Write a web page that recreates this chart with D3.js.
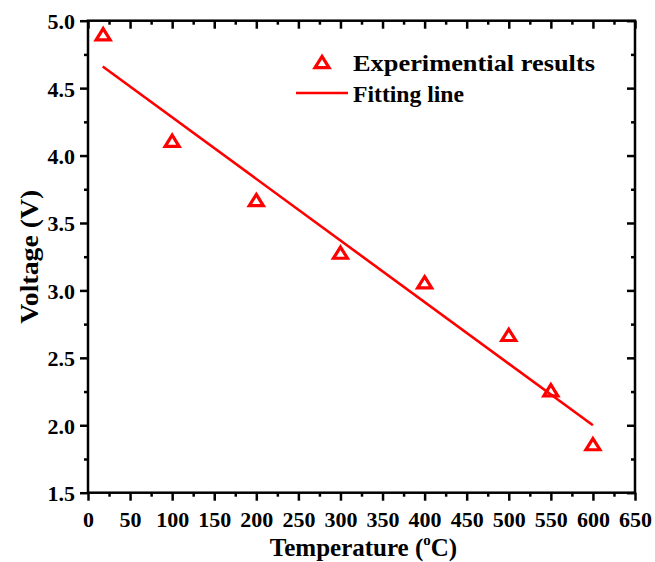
<!DOCTYPE html>
<html><head><meta charset="utf-8">
<script src="https://cdn.jsdelivr.net/npm/d3@7"></script>
<style>
html,body{margin:0;padding:0;background:#fff;}
text{font-family:"Liberation Serif","Times New Roman",serif;font-weight:bold;fill:#000;}
</style></head>
<body>
<svg id="chart" width="655" height="562"></svg>
<script>
const temperatures = [18, 100, 200, 300, 400, 500, 550, 600];
const voltages = [4.90, 4.11, 3.67, 3.28, 3.06, 2.67, 2.26, 1.86];
const fitTemps = [17.5, 600];
const fitVolts = [4.66, 2.00];
const xTicks = d3.range(0, 651, 50);
const yTicks = [1.5, 2.0, 2.5, 3.0, 3.5, 4.0, 4.5, 5.0];
const legendLabels = ["Experimential results", "Fitting line"];

const svg = d3.select("#chart");
const L = 88, R = 635, T = 20.7, B = 492.7;
const x = d3.scaleLinear().domain([0, 650]).range([L, R]);
const y = d3.scaleLinear().domain([1.5, 5.0]).range([B, T]);
const red = "#ff0000";

const fmtY = d3.format(".1f");
const minorX = d3.range(25, 650, 50);
const minorY = d3.range(1.75, 5.0, 0.5);

function axisStyle(g){
  g.select(".domain").remove();
  g.selectAll("line").attr("stroke","#000").attr("stroke-width",2.5);
}
// bottom
svg.append("g").attr("transform",`translate(0,${B})`)
  .call(d3.axisBottom(x).tickValues(xTicks).tickSizeOuter(0).tickSize(8).tickFormat(d3.format("d")))
  .call(axisStyle)
  .call(g=>g.selectAll("text").attr("font-size",22).attr("dy",0).attr("y",34));
svg.append("g").attr("transform",`translate(0,${B})`)
  .call(d3.axisBottom(x).tickValues(minorX).tickSize(4).tickFormat(""))
  .call(axisStyle);
// top (inward)
svg.append("g").attr("transform",`translate(0,${T})`)
  .call(d3.axisBottom(x).tickValues(xTicks).tickSize(8).tickFormat(""))
  .call(axisStyle);
svg.append("g").attr("transform",`translate(0,${T})`)
  .call(d3.axisBottom(x).tickValues(minorX).tickSize(4).tickFormat(""))
  .call(axisStyle);
// left
svg.append("g").attr("transform",`translate(${L},0)`)
  .call(d3.axisLeft(y).tickValues(yTicks).tickSize(8).tickPadding(5).tickFormat(fmtY))
  .call(axisStyle)
  .call(g=>g.selectAll("text").attr("font-size",22).attr("dy","0.36em"));
svg.append("g").attr("transform",`translate(${L},0)`)
  .call(d3.axisLeft(y).tickValues(minorY).tickSize(4).tickFormat(""))
  .call(axisStyle);
// right (inward)
svg.append("g").attr("transform",`translate(${R},0)`)
  .call(d3.axisLeft(y).tickValues(yTicks).tickSize(8).tickFormat(""))
  .call(axisStyle);
svg.append("g").attr("transform",`translate(${R},0)`)
  .call(d3.axisLeft(y).tickValues(minorY).tickSize(4).tickFormat(""))
  .call(axisStyle);

// frame
svg.append("rect").attr("x",L).attr("y",T).attr("width",R-L).attr("height",B-T)
  .attr("fill","none").attr("stroke","#000").attr("stroke-width",2.5);

// fit line
const line = d3.line().x(d=>x(d[0])).y(d=>y(d[1]));
svg.append("path").datum(fitTemps.map((t,i)=>[t,fitVolts[i]]))
  .attr("d",line).attr("fill","none").attr("stroke",red).attr("stroke-width",2.6);

// triangles
function tri(cx,cy){
  const w=7, h=5.6;
  return `M${cx},${cy-h}L${cx+w},${cy+h}L${cx-w},${cy+h}Z`;
}
svg.append("g").selectAll("path").data(temperatures.map((t,i)=>[t,voltages[i]]))
  .join("path").attr("d",d=>tri(x(d[0]),y(d[1])))
  .attr("fill","none").attr("stroke",red).attr("stroke-width",3.2).attr("stroke-linejoin","miter");

// legend
svg.append("path").attr("d",tri(322,62)).attr("fill","none").attr("stroke",red).attr("stroke-width",3.2);
svg.append("line").attr("x1",296).attr("x2",348).attr("y1",93).attr("y2",93).attr("stroke",red).attr("stroke-width",2.6);
svg.append("text").attr("x",353).attr("y",70.5).attr("font-size",24)
  .attr("textLength",242).attr("lengthAdjust","spacingAndGlyphs").text(legendLabels[0]);
svg.append("text").attr("x",353).attr("y",102).attr("font-size",24)
  .attr("textLength",111).attr("lengthAdjust","spacingAndGlyphs").text(legendLabels[1]);

// axis titles
const xt = svg.append("text").attr("x",(L+R)/2 + 2).attr("y",556).attr("text-anchor","middle").attr("font-size",25);
xt.append("tspan").text("Temperature (");
xt.append("tspan").attr("font-size",15).attr("dy",-11).text("o");
xt.append("tspan").attr("dy",11).text("C)");
svg.append("text").attr("transform",`translate(38,${(T+B)/2}) rotate(-90)`)
  .attr("text-anchor","middle").attr("font-size",25)
  .attr("textLength",134).attr("lengthAdjust","spacingAndGlyphs").text("Voltage (V)");
</script>
</body></html>
